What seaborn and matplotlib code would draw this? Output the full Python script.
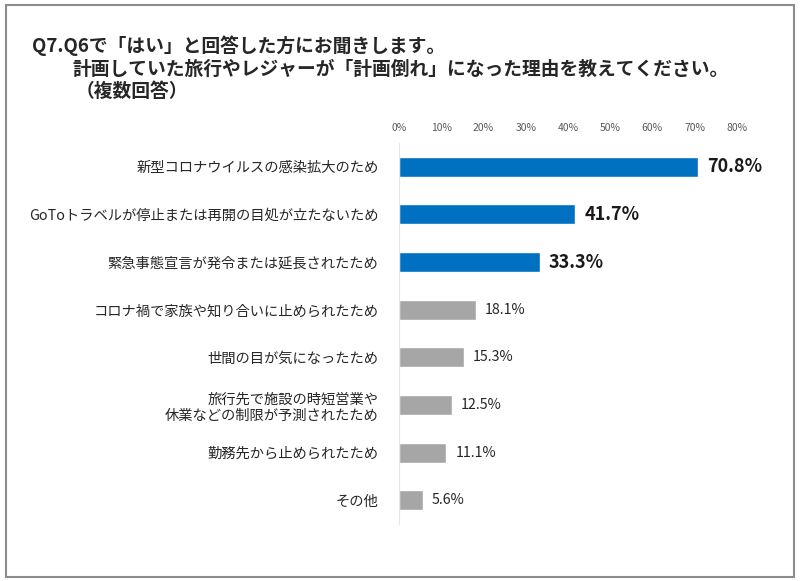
import matplotlib
matplotlib.use("Agg")
import matplotlib.pyplot as plt
import matplotlib.patches as patches
import pandas as pd
import seaborn as sns

# data
categories = [
    "新型コロナウイルスの感染拡大のため",
    "GoToトラベルが停止または再開の目処が立たないため",
    "緊急事態宣言が発令または延長されたため",
    "コロナ禍で家族や知り合いに止められたため",
    "世間の目が気になったため",
    "旅行先で施設の時短営業や\n休業などの制限が予測されたため",
    "勤務先から止められたため",
    "その他",
]
values = [70.8, 41.7, 33.3, 18.1, 15.3, 12.5, 11.1, 5.6]
ticks = [0, 10, 20, 30, 40, 50, 60, 70, 80]
title_lines = [
    "Q7.Q6で「はい」と回答した方にお聞きします。",
    "計画していた旅行やレジャーが「計画倒れ」になった理由を教えてください。",
    "（複数回答）",
]

blue = "#0070C0"
grey = "#A6A6A6"
colors = [blue] * 3 + [grey] * 5

sns.set_theme(style="white")
plt.rcParams["font.family"] = ["Noto Sans CJK JP", "DejaVu Sans"]

df = pd.DataFrame({"reason": categories, "pct": values})

fig = plt.figure(figsize=(8, 5.81), dpi=100)
ax = fig.add_axes([0.499, 0.098, 0.422, 0.656])

sns.barplot(data=df, x="pct", y="reason", hue="reason", palette=colors,
            legend=False, width=0.42, saturation=1, ax=ax, orient="h")

ax.set_xlim(0, 80)
ax.set_xticks(ticks)
ax.set_xticklabels([f"{t}%" for t in ticks], fontsize=7.5, color="#595959")
ax.xaxis.tick_top()
ax.tick_params(axis="x", length=0, pad=7)
ax.tick_params(axis="y", length=0, pad=15, labelsize=10.3)
for lbl in ax.get_yticklabels():
    lbl.set_color("#262626")
ax.set_xlabel("")
ax.set_ylabel("")

for s in ["top", "right", "bottom"]:
    ax.spines[s].set_visible(False)
ax.spines["left"].set_color("#E6E6E6")
ax.spines["left"].set_linewidth(0.8)

# value labels
for i, v in enumerate(values):
    if i < 3:
        ax.text(v + 2.2, i, f"{v}%", va="center", ha="left",
                fontsize=13, fontweight="bold", color="#1a1a1a")
    else:
        ax.text(v + 2.2, i, f"{v}%", va="center", ha="left",
                fontsize=10.3, color="#262626")

# title
fig.text(0.040, 0.921, title_lines[0], fontsize=13.5, fontweight="bold", va="center")
fig.text(0.090, 0.880, title_lines[1], fontsize=13.5, fontweight="bold", va="center")
fig.text(0.095, 0.842, title_lines[2], fontsize=13.5, fontweight="bold", va="center")

# outer frame
fig.patches.append(patches.Rectangle((0.007, 0.007), 0.986, 0.984,
                                     transform=fig.transFigure, fill=False,
                                     edgecolor="#8c8c8c", linewidth=1.5))

fig.savefig("out.png", dpi=100)
